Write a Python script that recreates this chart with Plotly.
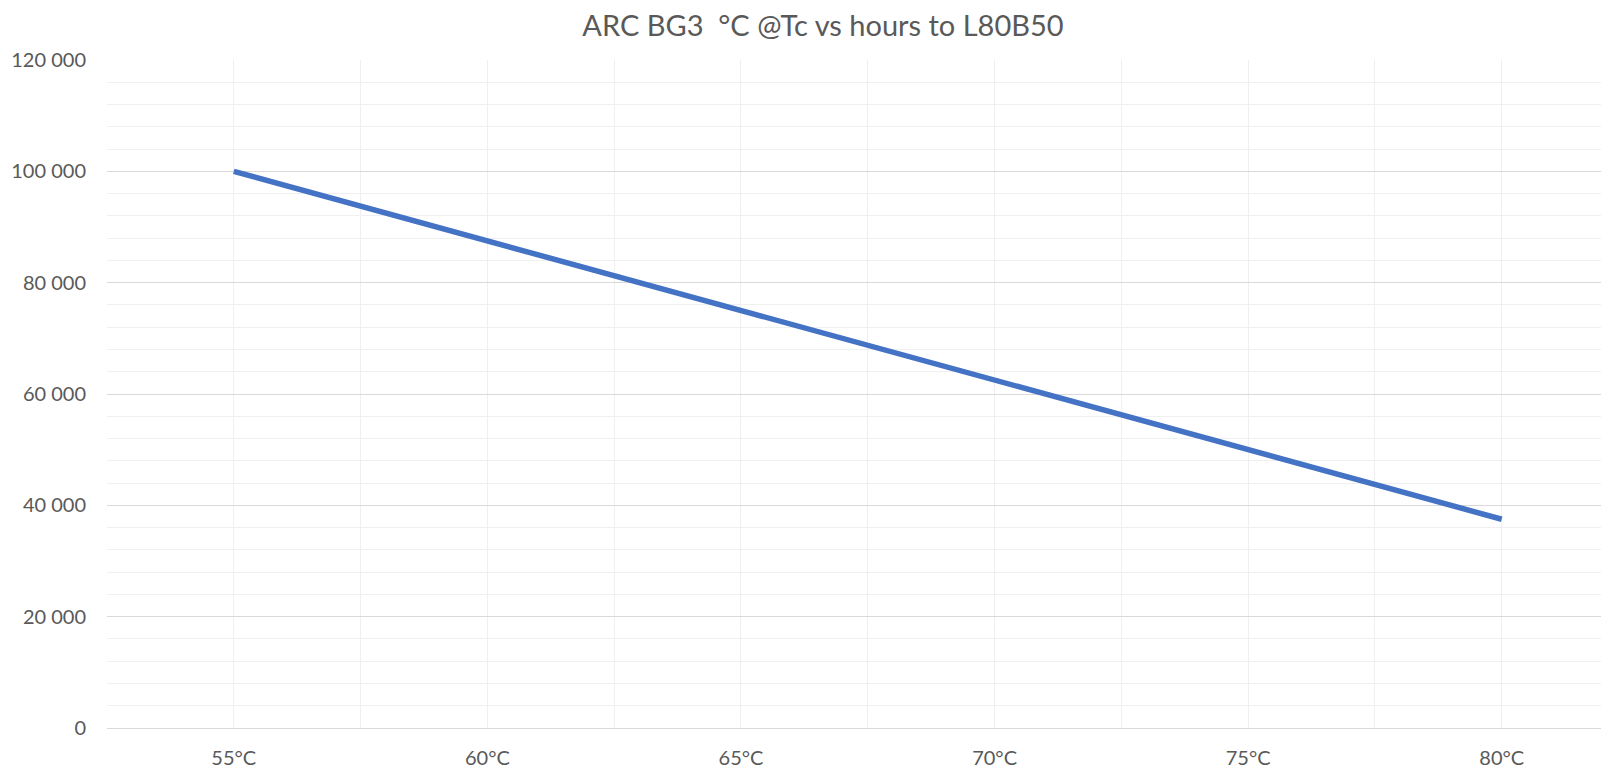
import plotly.graph_objects as go

categories = ["55°C", "60°C", "65°C", "70°C", "75°C", "80°C"]
hours = [100000, 87500, 75000, 62500, 50000, 37500]
title_text = "ARC BG3  °C @Tc vs hours to L80B50"

xpos = list(range(len(categories)))

# The page body has an 8px margin; the figure is sized/offset to compensate.
W, H = 1601, 762

fig = go.Figure()
fig.add_trace(go.Scatter(
    x=xpos, y=hours, mode="lines",
    line=dict(color="#4472C4", width=5.5),
    hoverinfo="skip", showlegend=False,
))

FONT = "Lato, 'Open Sans', sans-serif"
fig.update_layout(
    width=W, height=H,
    margin=dict(l=99, r=0, t=52, b=42),
    paper_bgcolor="white", plot_bgcolor="white",
    separators=". ",
    font=dict(family=FONT, color="#595959", size=20),
    title=dict(text=title_text, x=815 / W, xanchor="center", y=1 - 18 / H, yanchor="middle",
               font=dict(family=FONT, size=29, color="#595959")),
    xaxis=dict(
        range=[-0.5, 5.423], tickmode="array", tickvals=xpos, ticktext=categories,
        showgrid=True, gridcolor="#efefef", gridwidth=1,
        minor=dict(tickmode="array", tickvals=[i + 0.5 for i in range(-1, 6)],
                   showgrid=True, gridcolor="#efefef", gridwidth=1),
        zeroline=False, showline=False, ticks="", ticklabelstandoff=16,
        fixedrange=True,
    ),
    yaxis=dict(
        range=[0, 120000], dtick=20000, tick0=0, tickformat=",d",
        showgrid=True, gridcolor="#d9d9d9", gridwidth=1,
        minor=dict(dtick=4000, tick0=0, showgrid=True, gridcolor="#f0f0f0", gridwidth=1),
        zeroline=True, zerolinecolor="#d9d9d9", zerolinewidth=1,
        showline=False, ticks="", ticklabelstandoff=20,
        fixedrange=True,
    ),
)

fig.write_html("out.html")
